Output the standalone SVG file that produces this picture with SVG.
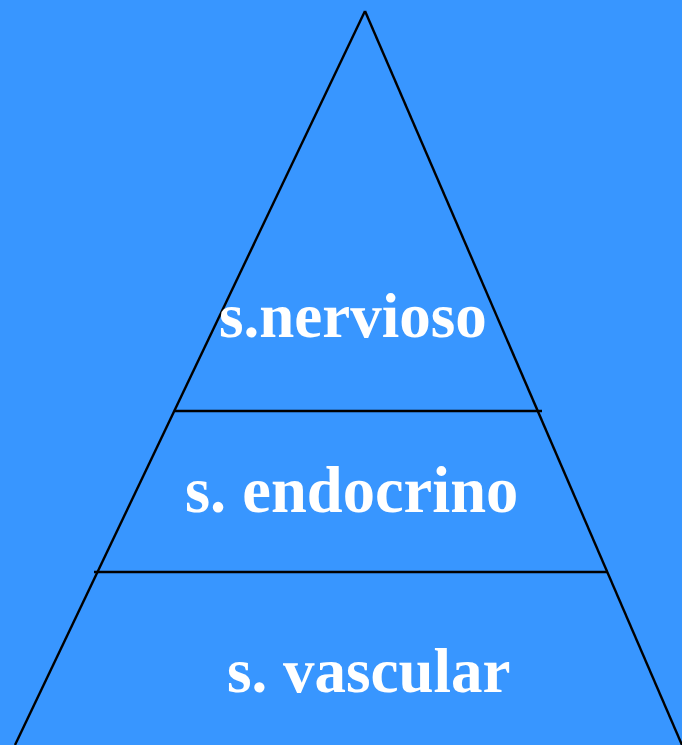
<svg xmlns="http://www.w3.org/2000/svg" width="682" height="745" viewBox="0 0 682 745">
<style>
.ln{stroke:#000;stroke-width:2.4;fill:none}
.lbl{font-family:"Liberation Serif","Times New Roman",serif;font-weight:bold;font-size:63px;fill:#fff}
.big{font-size:64.5px}
</style>
<rect width="682" height="745" fill="#3896FF"/>
<g id="connectors">
<line class="ln" x1="365" y1="11" x2="15" y2="745"/>
<line class="ln" x1="365" y1="11" x2="682" y2="745"/>
<line class="ln" x1="175" y1="411" x2="542" y2="411"/>
<line class="ln" x1="94" y1="572" x2="608" y2="572"/>
</g>
<g id="nervioso"><text class="lbl" x="219" y="337">s.nervioso</text></g>
<g id="endocrino"><text class="lbl big" x="185" y="512">s. endocrino</text></g>
<g id="vascular"><text class="lbl" x="227" y="692">s. vascular</text></g>
</svg>
